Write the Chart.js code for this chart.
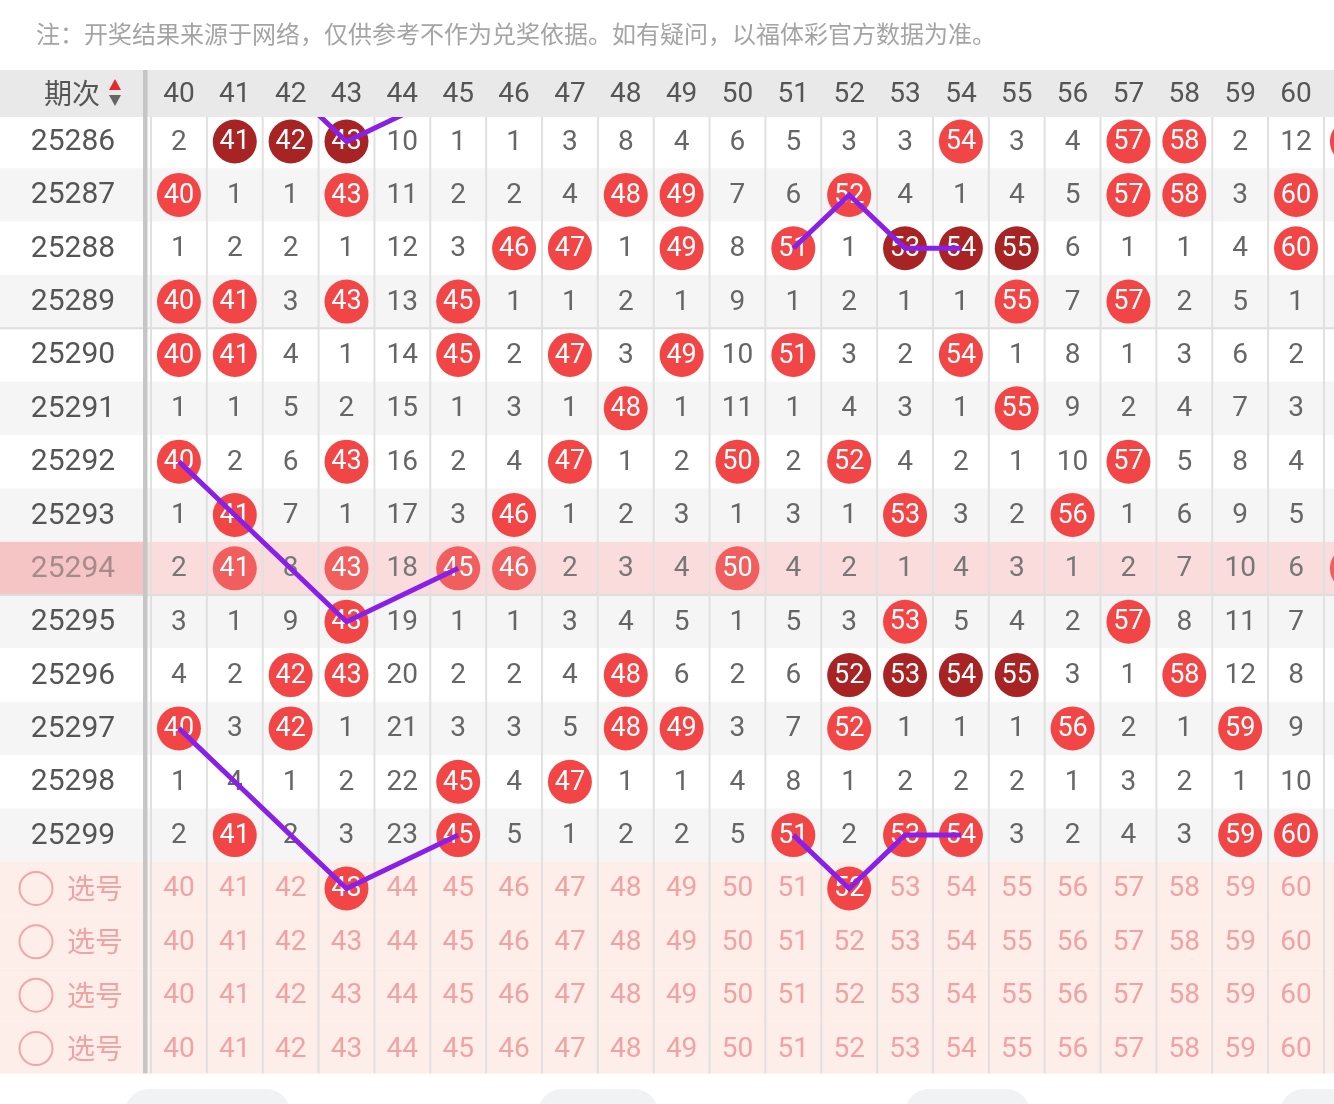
<!DOCTYPE html>
<html lang="zh">
<head>
    <meta charset="UTF-8">
    <title>走势图</title>
    <script src="https://cdn.jsdelivr.net/npm/chart.js"></script>
    <style>
        body { margin: 0; background: #fff; }
        canvas { display: block; }
    </style>
</head>
<body>
    <canvas id="trend" width="1334" height="1104"></canvas>

    <script>
        // columns 40..60 and the periods shown
        const numbers = [40, 41, 42, 43, 44, 45, 46, 47, 48, 49, 50, 51, 52, 53, 54, 55, 56, 57, 58, 59, 60];
        const periods = ['25286', '25287', '25288', '25289', '25290', '25291', '25292',
                         '25293', '25294', '25295', '25296', '25297', '25298', '25299'];

        // omission per number, 0 = drawn that period
        const r25286 = [2, 0, 0, 0, 10, 1, 1, 3, 8, 4, 6, 5, 3, 3, 0, 3, 4, 0, 0, 2, 12];
        const r25287 = [0, 1, 1, 0, 11, 2, 2, 4, 0, 0, 7, 6, 0, 4, 1, 4, 5, 0, 0, 3, 0];
        const r25288 = [1, 2, 2, 1, 12, 3, 0, 0, 1, 0, 8, 0, 1, 0, 0, 0, 6, 1, 1, 4, 0];
        const r25289 = [0, 0, 3, 0, 13, 0, 1, 1, 2, 1, 9, 1, 2, 1, 1, 0, 7, 0, 2, 5, 1];
        const r25290 = [0, 0, 4, 1, 14, 0, 2, 0, 3, 0, 10, 0, 3, 2, 0, 1, 8, 1, 3, 6, 2];
        const r25291 = [1, 1, 5, 2, 15, 1, 3, 1, 0, 1, 11, 1, 4, 3, 1, 0, 9, 2, 4, 7, 3];
        const r25292 = [0, 2, 6, 0, 16, 2, 4, 0, 1, 2, 0, 2, 0, 4, 2, 1, 10, 0, 5, 8, 4];
        const r25293 = [1, 0, 7, 1, 17, 3, 0, 1, 2, 3, 1, 3, 1, 0, 3, 2, 0, 1, 6, 9, 5];
        const r25294 = [2, 0, 8, 0, 18, 0, 0, 2, 3, 4, 0, 4, 2, 1, 4, 3, 1, 2, 7, 10, 6];
        const r25295 = [3, 1, 9, 0, 19, 1, 1, 3, 4, 5, 1, 5, 3, 0, 5, 4, 2, 0, 8, 11, 7];
        const r25296 = [4, 2, 0, 0, 20, 2, 2, 4, 0, 6, 2, 6, 0, 0, 0, 0, 3, 1, 0, 12, 8];
        const r25297 = [0, 3, 0, 1, 21, 3, 3, 5, 0, 0, 3, 7, 0, 1, 1, 1, 0, 2, 1, 0, 9];
        const r25298 = [1, 4, 1, 2, 22, 0, 4, 0, 1, 1, 4, 8, 1, 2, 2, 2, 1, 3, 2, 1, 10];
        const r25299 = [2, 0, 2, 3, 23, 0, 5, 1, 2, 2, 5, 0, 2, 0, 0, 3, 2, 4, 3, 0, 0];
        const omissions = [r25286, r25287, r25288, r25289, r25290, r25291, r25292,
                           r25293, r25294, r25295, r25296, r25297, r25298, r25299];

        const edgeHits = ['25286', '25294'];   // number 61, cut off at the right edge
        const highlightRow = '25294';
        const pickLabels = ['选号', '选号', '选号', '选号'];
        const picked = [43, 52];               // chosen in the first 选号 row (period 25300)

        // purple connecting lines: [number, period]
        const trendA = [[42, 25285], [43, 25286], [45, 25285]];
        const trendB = [[51, 25288], [52, 25287], [53, 25288], [54, 25288]];
        const trendC = [[40, 25292], [41, 25293], [43, 25295], [45, 25294]];
        const trendD = [[40, 25297], [41, 25298], [42, 25299], [43, 25300], [45, 25299]];
        const trendE = [[51, 25299], [52, 25300], [53, 25299], [54, 25299]];

        const ROW0 = 25286;
        const rowOf = p => Number(p) - ROW0;
        const DIGITS = 'Roboto, "Noto Sans", sans-serif';
        const CJK = '"Noto Sans CJK SC", "Noto Sans", sans-serif';

        // balls
        const hits = [];
        omissions.forEach((row, k) => {
            numbers.forEach((n, i) => {
                if (row[i] !== 0) return;
                let j = i, e = i;
                while (j > 0 && row[j - 1] === 0) { j--; }
                while (e < row.length - 1 && row[e + 1] === 0) { e++; }
                let fill = '#f24646';
                if (e - j + 1 >= 3) fill = '#a82424';
                else if (periods[k] === highlightRow) fill = '#f15e5e';
                hits.push({ x: n, y: k, fill });
            });
        });
        edgeHits.forEach(p => hits.push({ x: 61, y: rowOf(p), fill: p === highlightRow ? '#f15e5e' : '#f24646' }));
        picked.forEach(n => hits.push({ x: n, y: periods.length, fill: '#f24646' }));

        const trendSet = pts => ({
            type: 'scatter',
            showLine: true,
            data: pts.map(([n, p]) => ({ x: n, y: rowOf(p) })),
            borderColor: '#8a20e8',
            borderWidth: 5,
            pointRadius: 0,
            tension: 0,
            clip: 0
        });

        const tablePlugin = {
            id: 'table',
            beforeDatasetsDraw(chart) {
                const { ctx, chartArea: a, scales: { x, y } } = chart;
                const W = chart.width;
                const headTop = 70, headBot = a.top;
                const rowTop = k => y.getPixelForValue(k - 0.5);
                const rowBot = k => y.getPixelForValue(k + 0.5);
                const total = periods.length + pickLabels.length;
                ctx.save();

                ctx.fillStyle = '#fff';
                ctx.fillRect(0, 0, W, chart.height);

                // note line
                ctx.fillStyle = '#a4a4a4';
                ctx.font = '24px ' + CJK;
                ctx.textBaseline = 'middle';
                ctx.textAlign = 'left';
                ctx.fillText('注：开奖结果来源于网络，仅供参考不作为兑奖依据。如有疑问，以福体彩官方数据为准。', 36, 34);

                // row backgrounds
                for (let k = 0; k < total; k++) {
                    let bg = k % 2 ? '#f5f5f5' : '#ffffff';
                    if (k >= periods.length) bg = '#feeee9';
                    ctx.fillStyle = bg;
                    ctx.fillRect(0, rowTop(k), W, rowBot(k) - rowTop(k));
                    if (periods[k] === highlightRow) {
                        ctx.fillStyle = '#f5c5c5';
                        ctx.fillRect(0, rowTop(k), 145, rowBot(k) - rowTop(k));
                        ctx.fillStyle = '#fadcdc';
                        ctx.fillRect(145, rowTop(k), W - 145, rowBot(k) - rowTop(k));
                    }
                }

                // five-period separators
                ctx.fillStyle = '#dddddd';
                [4, 9].forEach(k => ctx.fillRect(0, rowTop(k) - 1, W, 2));

                // column lines
                ctx.fillStyle = '#e0e0e0';
                for (let v = 39.5; v <= 61.5; v++) {
                    const px = x.getPixelForValue(v);
                    ctx.fillRect(px - 1, headBot, 2, a.bottom - headBot);
                }

                // header
                ctx.fillStyle = '#e9e9e9';
                ctx.fillRect(0, headTop, W, headBot - headTop);
                ctx.fillStyle = '#c6c6c6';
                ctx.fillRect(143, headTop, 4.5, a.bottom - headTop);

                const hy = (headTop + headBot) / 2;
                ctx.fillStyle = '#555';
                ctx.textAlign = 'center';
                ctx.font = '28px ' + CJK;
                ctx.fillText('期次', 72, hy);
                ctx.fillStyle = '#e8272b';
                ctx.beginPath();
                ctx.moveTo(115, 79); ctx.lineTo(121, 90); ctx.lineTo(109, 90); ctx.closePath(); ctx.fill();
                ctx.fillStyle = '#666';
                ctx.beginPath();
                ctx.moveTo(109, 95); ctx.lineTo(121, 95); ctx.lineTo(115, 106); ctx.closePath(); ctx.fill();

                ctx.font = '28px ' + DIGITS;
                ctx.fillStyle = '#555';
                numbers.forEach(n => ctx.fillText(String(n), x.getPixelForValue(n), hy + 1));

                // period labels
                periods.forEach((p, k) => {
                    ctx.fillStyle = p === highlightRow ? '#a88a8a' : '#555';
                    ctx.font = '30px ' + DIGITS;
                    ctx.fillText(p, 73, y.getPixelForValue(k) + 1);
                });

                // omission values
                ctx.font = '28px ' + DIGITS;
                omissions.forEach((row, k) => {
                    ctx.fillStyle = periods[k] === highlightRow ? '#777' : '#666';
                    row.forEach((v, i) => {
                        if (v !== 0) ctx.fillText(String(v), x.getPixelForValue(numbers[i]), y.getPixelForValue(k) + 1);
                    });
                });

                // pick rows
                pickLabels.forEach((label, i) => {
                    const k = periods.length + i;
                    const cy = y.getPixelForValue(k);
                    ctx.strokeStyle = '#f1a6a6';
                    ctx.lineWidth = 2;
                    ctx.beginPath();
                    ctx.arc(36, cy, 16.5, 0, Math.PI * 2);
                    ctx.stroke();
                    ctx.fillStyle = '#f1a2a2';
                    ctx.textAlign = 'left';
                    ctx.font = '28px ' + CJK;
                    ctx.fillText(label, 67, cy);
                    ctx.textAlign = 'center';
                    ctx.font = '28px ' + DIGITS;
                    numbers.forEach(n => {
                        if (i === 0 && picked.includes(n)) return;
                        ctx.fillText(String(n), x.getPixelForValue(n), cy + 1);
                    });
                });

                // bottom tabs
                ctx.fillStyle = '#fff';
                ctx.fillRect(0, a.bottom, W, chart.height - a.bottom);
                ctx.fillStyle = '#f1f2f4';
                [[125, 290], [538, 658], [905, 1030], [1280, 1420]].forEach(([l, r]) => {
                    ctx.beginPath();
                    ctx.roundRect(l, 1089, r - l, 60, 24);
                    ctx.fill();
                });
                ctx.restore();
            },
            afterDatasetDraw(chart, args) {
                if (chart.data.datasets[args.index].id !== 'hits') return;
                const { ctx } = chart;
                ctx.save();
                ctx.fillStyle = '#fff';
                ctx.font = '27px ' + DIGITS;
                ctx.textAlign = 'center';
                ctx.textBaseline = 'middle';
                args.meta.data.forEach((el, i) => {
                    const raw = chart.data.datasets[args.index].data[i];
                    ctx.fillText(String(raw.x), el.x, el.y + 1);
                });
                ctx.restore();
            }
        };

        new Chart(document.getElementById('trend'), {
            type: 'scatter',
            data: {
                datasets: [
                    trendSet(trendA), trendSet(trendB), trendSet(trendC), trendSet(trendD), trendSet(trendE),
                    {
                        id: 'hits',
                        data: hits,
                        pointRadius: 22,
                        pointHoverRadius: 22,
                        pointBorderWidth: 0,
                        pointBackgroundColor: c => (c.raw ? c.raw.fill : '#f24646'),
                        clip: 0
                    }
                ]
            },
            options: {
                responsive: false,
                animation: false,
                devicePixelRatio: 1,
                events: [],
                layout: { autoPadding: false, padding: { left: 151, top: 117, right: 0, bottom: 30.4 } },
                plugins: { legend: { display: false }, tooltip: { enabled: false } },
                scales: {
                    x: { type: 'linear', display: false, min: 39.5, max: 60.68 },
                    y: { type: 'linear', display: false, reverse: true, min: -0.46, max: 17.47 }
                }
            },
            plugins: [tablePlugin]
        });
    </script>
</body>
</html>
